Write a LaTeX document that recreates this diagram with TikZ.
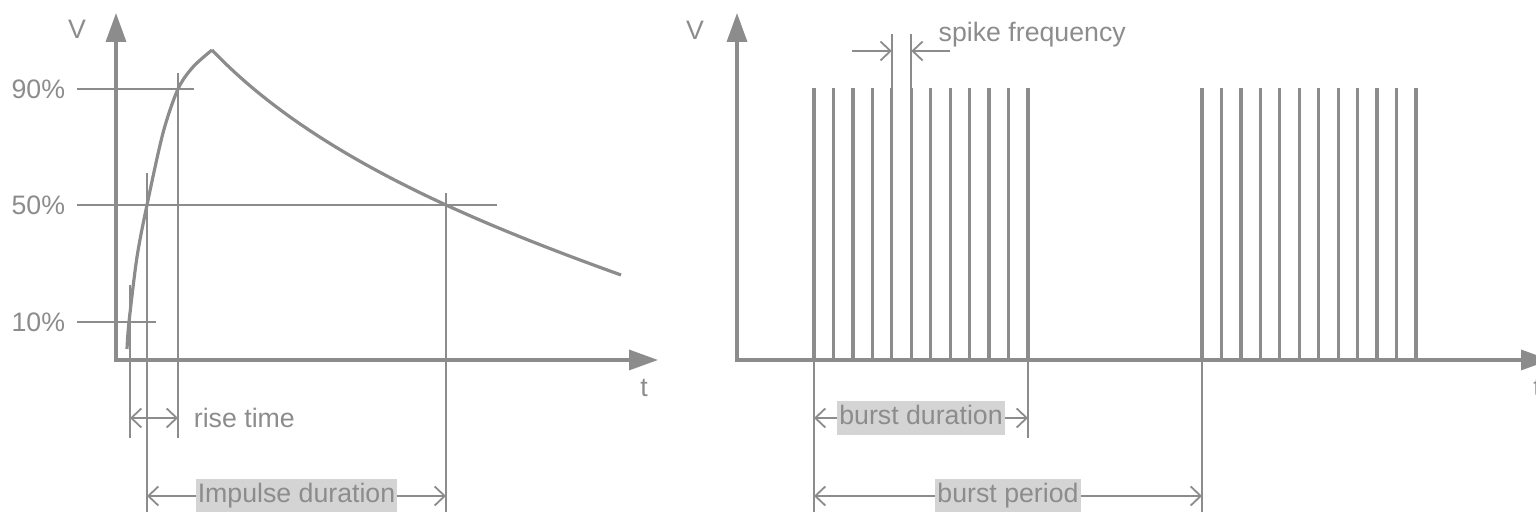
\documentclass[tikz,border=0pt]{standalone}
\usepackage{fontspec}
\setmainfont{Liberation Sans}
\usetikzlibrary{arrows.meta}

\definecolor{sig}{HTML}{8C8C8C}
\definecolor{tag}{HTML}{D4D4D4}

\begin{document}
\begin{tikzpicture}[
    axis/.style={draw=sig, line width=0.34mm, line join=miter,
                 {Triangle[length=2.9mm, width=2mm]}-{Triangle[length=2.9mm, width=2mm]}},
    guide/.style={draw=sig, line width=0.18mm},
    trace/.style={draw=sig, line width=0.32mm, line join=round},
    spike/.style={draw=sig, line width=0.32mm},
    barb/.style={guide, -{Straight Barb[length=1mm, width=1.9mm]}},
    dim/.style={guide, {Straight Barb[length=1mm, width=1.9mm]}-{Straight Barb[length=1mm, width=1.9mm]}},
    lbl/.style={text=sig, font=\fontsize{7.6}{9}\selectfont, inner sep=0.3mm},
    tagbox/.style={lbl, fill=tag, inner xsep=0.2mm, inner ysep=0.45mm,
                   text height=1.95mm, text depth=0.6mm}
]
\useasboundingbox (0,0) rectangle (15.36,5.12);

%% --- Impuls (stanga) ---
\coordinate (o1) at (1.16,1.52);
\draw[axis] (1.16,4.99) -- (o1) -- (6.58,1.52);
\node[lbl] (v1) at (0.77,4.83) {V};
\node[lbl] (t1) at (6.44,1.24) {t};

\draw[guide] (0.77,4.23) node[lbl, left=0.8mm] (p90) {90\%} -- (1.94,4.23);
\draw[guide] (0.77,3.07) node[lbl, left=0.8mm] (p50) {50\%} -- (4.97,3.07);
\draw[guide] (0.77,1.90) node[lbl, left=0.8mm] (p10) {10\%} -- (1.56,1.90);

% front + coada
\coordinate (peak) at (2.12,4.62);
\draw[trace] plot[smooth] coordinates {(1.27,1.63) (1.29,1.90) (1.37,2.55) (1.47,3.07)
    (1.63,3.79) (1.78,4.23) (1.93,4.45) (2.12,4.62)};
\draw[trace] (peak) .. controls (3.12,3.57) and (4.71,2.91) .. (6.21,2.37);

\draw[guide] (1.30,2.27) -- (1.30,0.74);
\draw[guide] (1.47,3.39) -- (1.47,0);
\draw[guide] (1.78,4.39) -- (1.78,0.74);
\draw[guide] (4.46,3.19) -- (4.46,0);

\draw[dim] (1.30,0.94) -- (1.78,0.94) node[lbl, right=1.2mm] (rise) {rise time};
\draw[dim] (1.47,0.16) -- node[tagbox] (imp) {Impulse duration} (4.46,0.16);

%% --- Burst (dreapta) ---
\coordinate (o2) at (7.37,1.52);
\draw[axis] (7.37,4.99) -- (o2) -- (15.50,1.52);
\node[lbl] (v2) at (6.95,4.82) {V};
\node[lbl] (t2) at (15.37,1.24) {t};

\foreach \i in {0,...,11} {
    \draw[spike] (8.14+\i*0.1945,1.52) -- ++(0,2.72);
    \draw[spike] (12.02+\i*0.1945,1.52) -- ++(0,2.72);
}

% frecventa
\draw[guide] (8.918,4.24) -- (8.918,4.78);
\draw[guide] (9.113,4.24) -- (9.113,4.78);
\draw[barb] (8.52,4.61) -- (8.918,4.61);
\draw[barb] (9.50,4.61) -- (9.113,4.61);
\node[lbl, anchor=west] (freq) at (9.35,4.77) {spike frequency};

\draw[guide] (8.14,1.52) -- (8.14,0);
\draw[guide] (10.28,1.52) -- (10.28,0.74);
\draw[guide] (12.02,1.52) -- (12.02,0);

\draw[dim] (8.14,0.94) -- node[tagbox] (bdur) {burst duration} (10.28,0.94);
\draw[dim] (8.14,0.16) -- node[tagbox] (bper) {burst period} (12.02,0.16);

\end{tikzpicture}
\end{document}
